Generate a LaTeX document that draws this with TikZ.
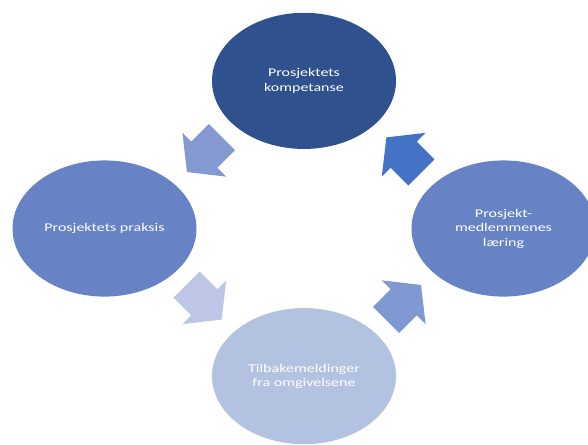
\documentclass[tikz,border=0pt]{standalone}
\usepackage{fontspec}
\setmainfont{Carlito}
\definecolor{cTop}{HTML}{2F528F}
\definecolor{cSide}{HTML}{6783C6}
\definecolor{cBottom}{HTML}{B4C2E2}
\definecolor{aOne}{HTML}{8499D2}
\definecolor{aTwo}{HTML}{4472C4}
\definecolor{aThree}{HTML}{BDC7E5}
\definecolor{aFour}{HTML}{8099D3}
\tikzset{
  bubble/.style={circle, minimum size=184pt, inner sep=0pt, text=white,
    align=center, font=\fontsize{16pt}{19.5pt}\selectfont, transform shape},
  blockarrow/.pic={
    \fill[#1] (-25,-18.5) -- (0,-18.5) -- (0,-31) -- (24.5,0) -- (0,31)
      -- (0,18.5) -- (-25,18.5) -- cycle;
  }
}
\begin{document}
\begin{tikzpicture}[x=1pt, y=1pt, yscale=0.74]
\useasboundingbox (0,0) rectangle (588,-600);
\node[bubble, fill=cTop] (komp) at (304,-109.3) {Prosjektets\\kompetanse};
\node[bubble, fill=cSide] (praks) at (104.5,-308.8) {Prosjektets praksis};
\node[bubble, fill=cSide] (laer) at (503.5,-308.8) {Prosjekt-\\medlemmenes\\læring};
\node[bubble, fill=cBottom] (tilb) at (304,-508.3) {Tilbakemeldinger\\fra omgivelsene};
\pic[rotate=225] at (204.3,-209.1) {blockarrow=aOne};
\pic[rotate=135] at (403.7,-209.1) {blockarrow=aTwo};
\pic[rotate=-45] at (204.3,-408.5) {blockarrow=aThree};
\pic[rotate=45] at (403.7,-408.5) {blockarrow=aFour};
\end{tikzpicture}
\end{document}
